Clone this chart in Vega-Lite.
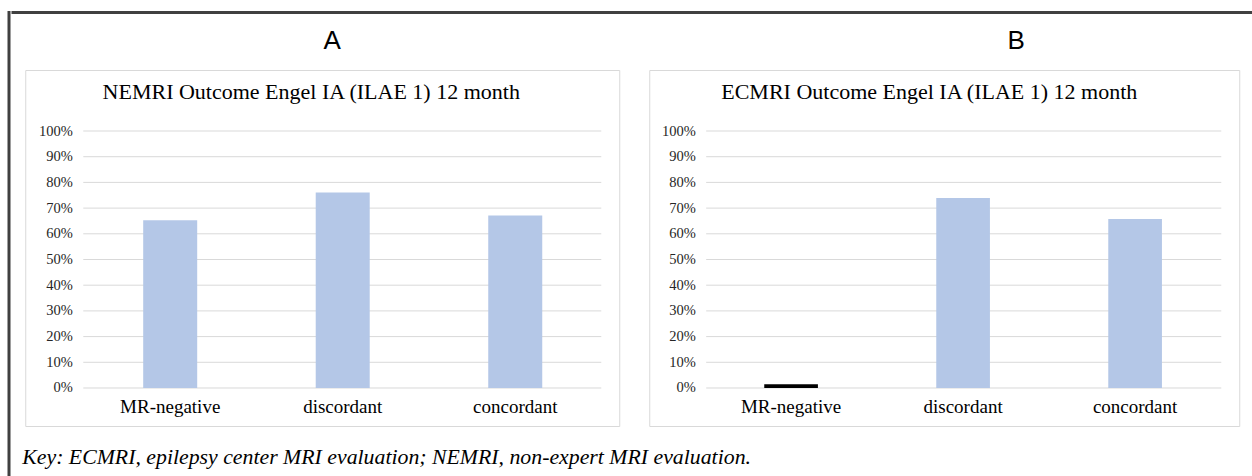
{
  "$schema": "https://vega.github.io/schema/vega-lite/v6.json",
  "background": "white",
  "padding": {"left": 7, "top": 10.5, "right": 0, "bottom": 0},
  "datasets": {
    "nemri": [
      {"group": "MR-negative", "rate": 0.653},
      {"group": "discordant", "rate": 0.761},
      {"group": "concordant", "rate": 0.671}
    ],
    "ecmri": [
      {"group": "MR-negative", "rate": 0.015},
      {"group": "discordant", "rate": 0.739},
      {"group": "concordant", "rate": 0.658}
    ],
    "grid": [
      {"tick": 0}, {"tick": 0.1}, {"tick": 0.2}, {"tick": 0.3}, {"tick": 0.4}, {"tick": 0.5},
      {"tick": 0.6}, {"tick": 0.7}, {"tick": 0.8}, {"tick": 0.9}, {"tick": 1}
    ]
  },
  "config": {
    "view": {"stroke": "#D9D9D9", "strokeWidth": 1},
    "axis": {
      "labelFont": "Liberation Serif",
      "labelColor": "#262626",
      "domain": false,
      "ticks": false,
      "tickSize": 0,
      "grid": false,
      "title": null
    }
  },
  "spacing": 0,
  "hconcat": [
    {
      "width": 0.01,
      "height": 470,
      "view": {"stroke": "#404040", "strokeWidth": 3},
      "data": {"name": "grid"},
      "mark": {"type": "rule", "opacity": 0},
      "encoding": {}
    },
    {
      "spacing": 12.5,
      "center": true,
      "vconcat": [
        {
          "width": 1237.5,
          "height": 0.01,
          "view": {"stroke": "#404040", "strokeWidth": 3},
          "data": {"name": "grid"},
          "mark": {"type": "rule", "opacity": 0},
          "encoding": {}
        },
        {
          "title": {
            "text": "Key: ECMRI, epilepsy center MRI evaluation; NEMRI, non-expert MRI evaluation.",
            "orient": "bottom",
            "anchor": "start",
            "frame": "group",
            "font": "Liberation Serif",
            "fontStyle": "italic",
            "fontWeight": "normal",
            "fontSize": 21.8,
            "color": "#000000",
            "offset": 20,
            "dx": -3
          },
          "spacing": 28,
          "hconcat": [
            {
              "title": {"text": "A", "font": "Liberation Sans", "fontSize": 26, "fontWeight": "normal", "color": "#000000", "anchor": "middle", "frame": "group", "dx": 307, "offset": 16},
              "vconcat": [
                {
                  "width": 594,
                  "height": 356,
                  "title": {"text": "NEMRI Outcome Engel IA (ILAE 1) 12 month", "font": "Liberation Serif", "fontSize": 22, "fontWeight": "normal", "color": "#000000", "anchor": "middle", "frame": "group", "dx": -11, "offset": -34},
                  "layer": [
                    {
                      "data": {"name": "grid"},
                      "mark": {"type": "rule", "color": "#D9D9D9", "strokeWidth": 1},
                      "encoding": {
                        "y": {"field": "tick", "type": "quantitative",
                              "scale": {"domain": [-0.1479, 1.2374], "nice": false, "zero": false},
                              "axis": {"orient": "left", "offset": -47, "labelPadding": 0, "values": [0, 0.1, 0.2, 0.3, 0.4, 0.5, 0.6, 0.7, 0.8, 0.9, 1], "format": ".0%", "labelFont": "Liberation Serif", "labelFontSize": 14.5, "labelColor": "#262626", "title": null}},
                        "x": {"datum": 0, "type": "quantitative", "scale": {"domain": [-0.112, 1.0347], "nice": false, "zero": false}, "axis": null},
                        "x2": {"datum": 1}
                      }
                    },
                    {
                      "data": {"name": "nemri"},
                      "mark": {"type": "bar", "color": "#B4C7E7"},
                      "encoding": {
                        "x": {"field": "group", "type": "nominal", "sort": null,
                              "scale": {"paddingInner": 0.687, "paddingOuter": 0.565, "align": 0.605},
                              "axis": {"orient": "bottom", "offset": -38, "labelAngle": 0, "labelPadding": 9, "labelFont": "Liberation Serif", "labelFontSize": 19, "labelColor": "#000000", "title": null}},
                        "y": {"field": "rate", "type": "quantitative",
                              "scale": {"domain": [-0.1479, 1.2374], "nice": false, "zero": false},
                              "axis": {"orient": "left", "offset": -47, "labelPadding": 0, "values": [0, 0.1, 0.2, 0.3, 0.4, 0.5, 0.6, 0.7, 0.8, 0.9, 1], "format": ".0%", "labelFont": "Liberation Serif", "labelFontSize": 14.5, "labelColor": "#262626", "title": null}},
                        "y2": {"datum": 0}
                      }
                    }
                  ],
                  "resolve": {"scale": {"x": "independent"}, "axis": {"x": "independent"}}
                }
              ]
            },
            {
              "title": {"text": "B", "font": "Liberation Sans", "fontSize": 26, "fontWeight": "normal", "color": "#000000", "anchor": "middle", "frame": "group", "dx": 367, "offset": 16},
              "vconcat": [
                {
                  "width": 590,
                  "height": 356,
                  "title": {"text": "ECMRI Outcome Engel IA (ILAE 1) 12 month", "font": "Liberation Serif", "fontSize": 22, "fontWeight": "normal", "color": "#000000", "anchor": "middle", "frame": "group", "dx": -15, "offset": -34},
                  "layer": [
                    {
                      "data": {"name": "grid"},
                      "mark": {"type": "rule", "color": "#D9D9D9", "strokeWidth": 1},
                      "encoding": {
                        "y": {"field": "tick", "type": "quantitative",
                              "scale": {"domain": [-0.1479, 1.2374], "nice": false, "zero": false},
                              "axis": {"orient": "left", "offset": -46, "labelPadding": 0, "values": [0, 0.1, 0.2, 0.3, 0.4, 0.5, 0.6, 0.7, 0.8, 0.9, 1], "format": ".0%", "labelFont": "Liberation Serif", "labelFontSize": 14.5, "labelColor": "#262626", "title": null}},
                        "x": {"datum": 0, "type": "quantitative", "scale": {"domain": [-0.1105, 1.0349], "nice": false, "zero": false}, "axis": null},
                        "x2": {"datum": 1}
                      }
                    },
                    {
                      "data": {"name": "ecmri"},
                      "mark": {"type": "bar"},
                      "encoding": {
                        "x": {"field": "group", "type": "nominal", "sort": null,
                              "scale": {"paddingInner": 0.688, "paddingOuter": 0.559, "align": 0.598},
                              "axis": {"orient": "bottom", "offset": -38, "labelAngle": 0, "labelPadding": 9, "labelFont": "Liberation Serif", "labelFontSize": 19, "labelColor": "#000000", "title": null}},
                        "y": {"field": "rate", "type": "quantitative",
                              "scale": {"domain": [-0.1479, 1.2374], "nice": false, "zero": false},
                              "axis": {"orient": "left", "offset": -46, "labelPadding": 0, "values": [0, 0.1, 0.2, 0.3, 0.4, 0.5, 0.6, 0.7, 0.8, 0.9, 1], "format": ".0%", "labelFont": "Liberation Serif", "labelFontSize": 14.5, "labelColor": "#262626", "title": null}},
                        "y2": {"datum": 0},
                        "color": {"condition": {"test": "datum.rate < 0.05", "value": "#000000"}, "value": "#B4C7E7"}
                      }
                    }
                  ],
                  "resolve": {"scale": {"x": "independent"}, "axis": {"x": "independent"}}
                }
              ]
            }
          ]
        }
      ]
    }
  ]
}
